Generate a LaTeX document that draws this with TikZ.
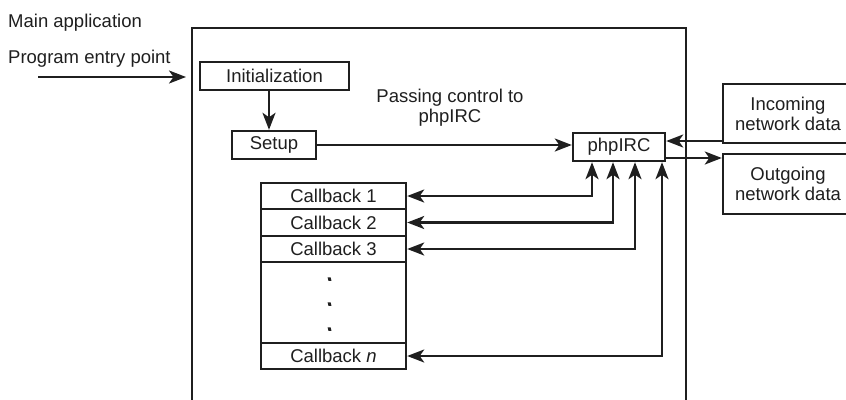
\documentclass[tikz,border=0pt]{standalone}
\usepackage{fontspec}
\setmainfont{Liberation Sans}
\usetikzlibrary{arrows.meta}
\definecolor{ink}{gray}{0.12}
\begin{document}
\begin{tikzpicture}[x=1pt,y=-1pt,
  ln/.style={draw=ink,line width=2.4pt},
  arr/.style={ln,-{Stealth[length=17pt,width=13pt,inset=4.5pt]}},
  darr/.style={ln,{Stealth[length=17pt,width=13pt,inset=4.5pt]}-{Stealth[length=17pt,width=13pt,inset=4.5pt]}},
  txt/.style={text=ink,font=\fontsize{18.5}{20}\selectfont,inner sep=0pt},
  box/.style={txt,draw=ink,line width=2.4pt,anchor=center,align=center},
  dot/.style={fill=ink,draw=none,inner sep=0pt,minimum width=3pt,minimum height=3.5pt,xslant=-0.25}]
\useasboundingbox (0,0) rectangle (846,399);
\clip (0,0) rectangle (846,399);
\fill[white] (0,0) rectangle (846,399);

% main frame
\draw[ln] (192,420) -- (192,28) -- (686,28) -- (686,420);

% labels
\node[txt,anchor=base west] (mainapp) at (8,27) {Main application};
\node[txt,anchor=base west] (entry) at (8,63) {Program entry point};
\node[txt,align=center] (passing) at (450,108) {Passing control to\\phpIRC};

% boxes
\node[box,minimum width=149pt,minimum height=28pt] (init) at (274.5,76) {Initialization};
\node[box,minimum width=84pt,minimum height=28pt] (setup) at (274,145) {Setup};
\node[box,minimum width=92pt,minimum height=28pt] (phpirc) at (619,147) {phpIRC};
\node[box,minimum width=130pt,minimum height=59pt] (incoming) at (788,113.5) {Incoming\\network data};
\node[box,minimum width=130pt,minimum height=60pt] (outgoing) at (788,184) {Outgoing\\network data};

% callback stack
\node[box,minimum width=145pt,minimum height=26pt] (cb1) at (333.5,196) {Callback 1};
\node[box,minimum width=145pt,minimum height=27pt] (cb2) at (333.5,222.5) {Callback 2};
\node[box,minimum width=145pt,minimum height=26pt] (cb3) at (333.5,249) {Callback 3};
\node[box,minimum width=145pt,minimum height=81pt] (cbdots) at (333.5,302.5) {};
\node[box,minimum width=145pt,minimum height=26pt] (cbn) at (333.5,356) {Callback \textit{n}};
\node[dot] (d1) at (329.5,279) {};
\node[dot] (d2) at (329.5,304) {};
\node[dot] (d3) at (329.5,329) {};

% coordinates
\coordinate (es) at (38,77);
\coordinate (ee) at (186,77);
\coordinate (ix) at (269,0);
\coordinate (iy) at (0,141);
\coordinate (oy) at (0,158);
\coordinate (v1) at (592,0);
\coordinate (v2) at (613,0);
\coordinate (v3) at (635,0);
\coordinate (v4) at (662,0);

% connectors
\draw[arr] (es) -- (ee);
\draw[arr] (init.south -| ix) -- (setup.north -| ix);
\draw[arr] (setup.east) -- (setup.east -| phpirc.west);
\draw[arr] (incoming.west |- iy) -- (phpirc.east |- iy);
\draw[arr] (phpirc.east |- oy) -- (outgoing.west |- oy);
\draw[darr] (cb1.east) -| (phpirc.south -| v1);
\draw[darr] (cb2.east) -| (phpirc.south -| v2);
\draw[darr] (cb3.east) -| (phpirc.south -| v3);
\draw[darr] (cbn.east) -| (phpirc.south -| v4);
\end{tikzpicture}
\end{document}
